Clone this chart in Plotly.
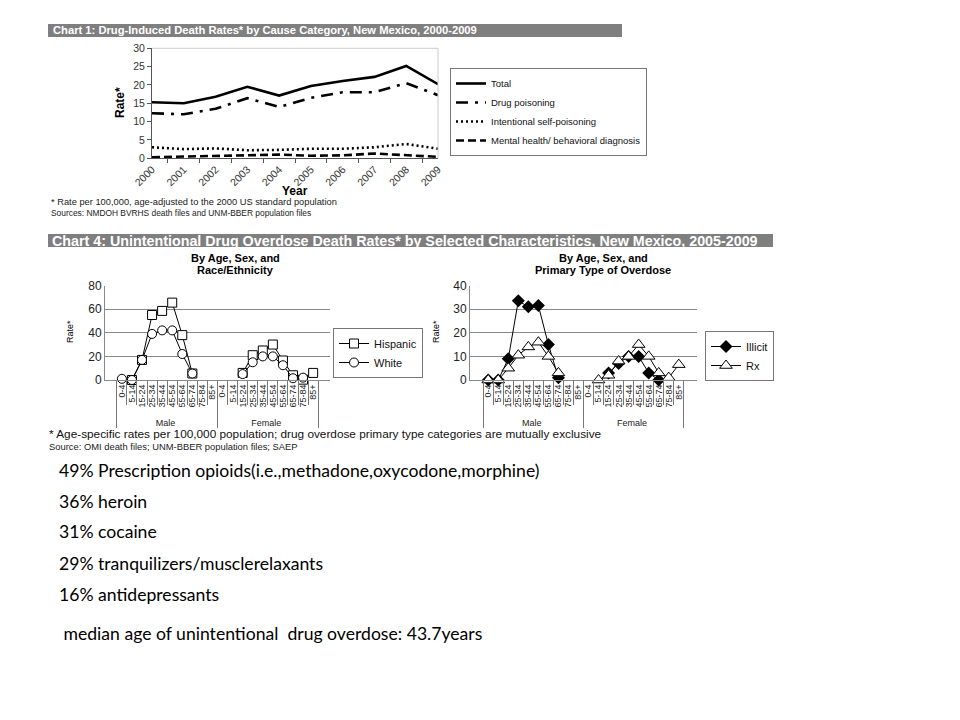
import plotly.graph_objects as go

# ---------------- Data ----------------
years = ["2000", "2001", "2002", "2003", "2004", "2005", "2006", "2007", "2008", "2009"]
total = [15.3, 15.0, 16.8, 19.5, 17.1, 19.7, 21.1, 22.2, 25.2, 20.2]
drug_poisoning = [12.3, 12.0, 13.5, 16.4, 14.0, 16.5, 18.0, 18.0, 20.5, 17.2]
self_poisoning = [3.0, 2.5, 2.7, 2.2, 2.3, 2.6, 2.6, 3.0, 3.9, 2.6]
mental_health = [0.3, 0.5, 0.5, 0.7, 1.0, 0.7, 0.8, 1.3, 0.8, 0.4]

ages = ["0-4", "5-14", "15-24", "25-34", "35-44", "45-54", "55-64", "65-74", "75-84", "85+"]
sexes = ["Male", "Female"]

hispanic = [None, 0, 17, 55, 58.5, 65.5, 38, 5.5, None, None,
            None, None, 6, 21, 25, 30, 16.5, 4, 0.3, 6]
white = [1, 0, 17, 39, 42, 42, 22, 5.5, None, None,
         None, None, 5, 15, 20, 20, 12.5, 1.5, 2, None]

illicit = [0, 0, 9, 33.5, 31, 31.5, 15, 1, None, None,
           None, None, 3, 7, 10, 10, 3, 0, None, None]
rx = [0, 0, 5, 10.5, 14, 16, 10, 3, None, None,
      None, 0, 2, 8, 10, 15, 10, 3, 1, 6.5]

bullets = [
    "49% Prescription opioids(i.e.,methadone,oxycodone,morphine)",
    "36% heroin",
    "31% cocaine",
    "29% tranquilizers/musclerelaxants",
    "16% antidepressants",
    "&nbsp;median age of unintentional&nbsp; drug overdose: 43.7years",
]

# ---------------- Helpers ----------------
W, H = 960, 720


def px(x):
    return x / W


def py(y):
    return 1 - y / H


FONT = "Liberation Sans, Arial, sans-serif"
mc_x = [[s for s in sexes for _ in ages], [a for _ in sexes for a in ages]]

fig = go.Figure()

# Chart 1 traces
line_styles = [
    ("Total", total, "solid"),
    ("Drug poisoning", drug_poisoning, "12px,7px,3px,7px"),
    ("Intentional self-poisoning", self_poisoning, "2px,3px"),
    ("Mental health/ behavioral diagnosis", mental_health, "8px,4px"),
]
for name, vals, dash in line_styles:
    fig.add_trace(go.Scatter(
        x=years, y=vals, name=name, mode="lines",
        line=dict(color="black", width=2.6, dash=dash),
        xaxis="x", yaxis="y", legend="legend",
    ))

# Chart 4 left
fig.add_trace(go.Scatter(
    x=mc_x, y=hispanic, name="Hispanic", mode="lines+markers",
    line=dict(color="black", width=1),
    marker=dict(symbol="square", size=9, color="white", line=dict(color="black", width=1)),
    xaxis="x2", yaxis="y2", legend="legend2", cliponaxis=False,
))
fig.add_trace(go.Scatter(
    x=mc_x, y=white, name="White", mode="lines+markers",
    line=dict(color="black", width=1),
    marker=dict(symbol="circle", size=9, color="white", line=dict(color="black", width=1)),
    xaxis="x2", yaxis="y2", legend="legend2", cliponaxis=False,
))

# Chart 4 right
fig.add_trace(go.Scatter(
    x=mc_x, y=illicit, name="Illicit", mode="lines+markers",
    line=dict(color="black", width=1),
    marker=dict(symbol="diamond", size=10, color="black"),
    xaxis="x3", yaxis="y3", legend="legend3", cliponaxis=False,
))
fig.add_trace(go.Scatter(
    x=mc_x, y=rx, name="Rx", mode="lines+markers",
    line=dict(color="black", width=1),
    marker=dict(symbol="triangle-up", size=11, color="white", line=dict(color="black", width=1)),
    xaxis="x3", yaxis="y3", legend="legend3", cliponaxis=False,
))

# ---------------- Axes ----------------
mc_axis = dict(
    type="multicategory", tickangle=-90, tickmode="linear", dtick=1, tick0=0,
    ticks="outside", tickson="boundaries", ticklen=24, tickcolor="#777",
    showdividers=True, dividercolor="#777", dividerwidth=1,
    showline=True, linecolor="#888", showgrid=False, automargin=False,
    tickfont=dict(family=FONT, size=9, color="#222"),
)
y4_axis = dict(
    showline=True, linecolor="#888", showgrid=True, gridcolor="#888",
    gridwidth=1, zeroline=False, ticks="", automargin=False,
    tickfont=dict(family=FONT, size=12, color="#222"),
)
fig.update_layout(
    xaxis=dict(
        domain=[px(152), px(438)], type="category", tickangle=-45,
        ticks="outside", tickson="boundaries", ticklen=4, tickcolor="#555",
        showline=True, linecolor="#555", showgrid=False, automargin=False,
        tickfont=dict(family=FONT, size=10.5, color="#333"), anchor="y",
    ),
    yaxis=dict(
        domain=[py(158.3), py(48.3)], range=[0, 30], dtick=5,
        ticks="outside", ticklen=4, tickcolor="#555", automargin=False,
        showline=True, linecolor="#555", showgrid=False, zeroline=False,
        tickfont=dict(family=FONT, size=10.5, color="#333"), anchor="x",
    ),
    xaxis2=dict(domain=[px(105), px(330)], anchor="y2", **mc_axis),
    yaxis2=dict(domain=[py(380), py(285.5)], range=[0, 80], dtick=20, anchor="x2", **y4_axis),
    xaxis3=dict(domain=[px(470), px(697)], anchor="y3", **mc_axis),
    yaxis3=dict(domain=[py(380), py(285.5)], range=[0, 40], dtick=10, anchor="x3", **y4_axis),
)

# ---------------- Legends ----------------
leg_common = dict(bgcolor="white", bordercolor="#777", borderwidth=1,
                  xanchor="left", tracegroupgap=0, itemwidth=30)
fig.update_layout(
    legend=dict(x=px(450), y=py(112), yanchor="middle",
                font=dict(family=FONT, size=9.5, color="#111"), **leg_common),
    legend2=dict(x=px(333), y=py(353), yanchor="middle",
                 font=dict(family=FONT, size=11, color="#111"), **leg_common),
    legend3=dict(x=px(705), y=py(356), yanchor="middle",
                 font=dict(family=FONT, size=11, color="#111"), **leg_common),
)

# ---------------- Shapes ----------------
shapes = [
    dict(type="rect", xref="paper", yref="paper", x0=px(48), x1=px(622), y0=py(37), y1=py(24),
         fillcolor="#7f7f7f", line=dict(width=0), layer="below"),
    dict(type="rect", xref="paper", yref="paper", x0=px(48), x1=px(773), y0=py(247), y1=py(234),
         fillcolor="#7f7f7f", line=dict(width=0), layer="below"),
    dict(type="line", xref="paper", yref="paper", x0=px(152), x1=px(438), y0=py(48.3), y1=py(48.3),
         line=dict(color="#ccc", width=1)),
    dict(type="line", xref="paper", yref="paper", x0=px(438), x1=px(438), y0=py(48.3), y1=py(158.3),
         line=dict(color="#ccc", width=1)),
]
fig.update_layout(shapes=shapes)

# ---------------- Annotations ----------------
ann = []


def text(x, y, s, size, bold=False, color="black", xanchor="left", angle=0, family=FONT):
    ann.append(dict(
        x=px(x), y=py(y), xref="paper", yref="paper", text=(f"<b>{s}</b>" if bold else s),
        showarrow=False, xanchor=xanchor, yanchor="middle", textangle=angle,
        font=dict(family=family, size=size, color=color),
    ))


text(51, 30.5, "Chart 1: Drug-Induced Death Rates* by Cause Category, New Mexico, 2000-2009", 11.2, bold=True, color="white")
text(120, 103, "Rate*", 12, bold=True, xanchor="center", angle=-90)
text(295, 191, "Year", 12, bold=True, xanchor="center")
text(49, 202, "* Rate per 100,000, age-adjusted to the 2000 US standard population", 9.3, color="#222")
text(49, 213.5, "Sources: NMDOH BVRHS death files and UNM-BBER population files", 8.4, color="#222")

text(50, 240.5, "Chart 4: Unintentional Drug Overdose Death Rates* by Selected Characteristics, New Mexico, 2005-2009", 14.3, bold=True, color="white")
text(235, 258, "By Age, Sex, and", 11, bold=True, xanchor="center")
text(235, 270, "Race/Ethnicity", 11, bold=True, xanchor="center")
text(603, 258, "By Age, Sex, and", 11, bold=True, xanchor="center")
text(603, 270, "Primary Type of Overdose", 11, bold=True, xanchor="center")
text(70, 332, "Rate*", 9, xanchor="center", angle=-90)
text(436, 332, "Rate*", 9, xanchor="center", angle=-90)
text(47, 434, "* Age-specific rates per 100,000 population; drug overdose primary type categories are mutually exclusive", 11.8, color="#111")
text(47, 446, "Source: OMI death files; UNM-BBER population files; SAEP", 9.4, color="#222")

bullet_y = [470, 501, 531, 563, 594, 633]
for s, y in zip(bullets, bullet_y):
    text(57, y, s, 17.6, family="Lato, Carlito, Calibri, sans-serif")

fig.update_layout(annotations=ann)

fig.update_layout(
    width=W, height=H, margin=dict(l=0, r=0, t=0, b=0, autoexpand=False),
    paper_bgcolor="white", plot_bgcolor="white",
    font=dict(family=FONT, color="black"),
)

fig.write_html("out.html", config={"displayModeBar": False},
               post_script="document.body.style.margin='0px';document.body.style.padding='0px';")
